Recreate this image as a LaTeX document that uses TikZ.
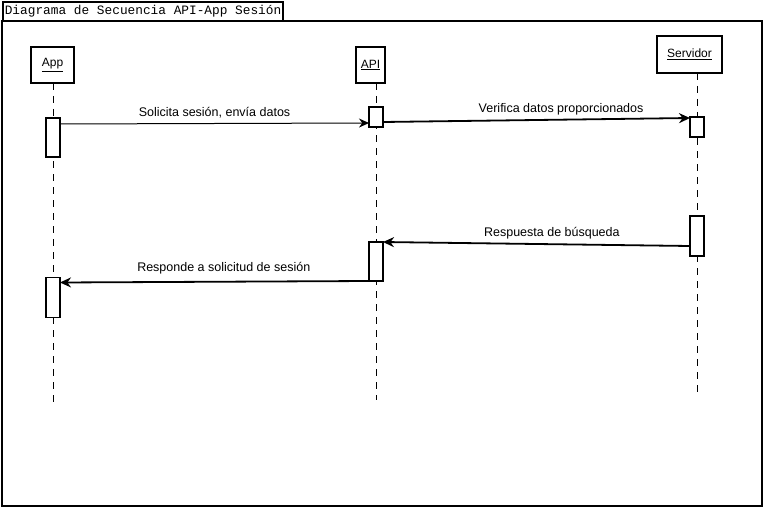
\documentclass[tikz,border=0pt]{standalone}
\usepackage{fontspec}
\setmainfont{Liberation Sans}
\newfontfamily\titlemono{Liberation Mono}
\usetikzlibrary{arrows.meta}
% fixed-width gap between the words of the monospaced title
\newcommand\titlegap{\hspace*{0.6em}}
\begin{document}
\begin{tikzpicture}[x=1pt,y=-1pt,
  frameline/.style={draw=black,line width=1.6pt},
  headbox/.style={draw=black,line width=2pt,fill=white,inner sep=0pt,outer sep=0pt,
    font=\fontsize{12}{14}\selectfont},
  actbox/.style={draw=black,line width=1.8pt,fill=white,inner sep=0pt,outer sep=0pt,
    minimum width=14pt},
  life/.style={draw=black,line width=1pt,dash pattern=on 7pt off 6pt},
  msgthin/.style={draw=black,line width=1pt,-{Stealth[length=10pt,width=9pt]}},
  msgthick/.style={draw=black,line width=1.8pt,-{Stealth[length=11pt,width=10pt]}},
  msglabel/.style={inner sep=0pt,font=\fontsize{12.5}{14}\selectfont}]

\useasboundingbox[fill=white] (0,0) rectangle (765,508);

% frame and its title tab
\draw[frameline] (2,21) rectangle (762,506);
\node[frameline,fill=white,anchor=north west,minimum width=280pt,minimum height=19pt,
  inner sep=0pt,text width=278pt,align=left,
  font=\titlemono\fontsize{12.8}{14}\selectfont] (title) at (2,1)
  {\hspace*{1pt}Diagrama\titlegap de\titlegap Secuencia\titlegap API-App\titlegap Sesión};

% lifeline heads
\node[headbox,minimum width=43pt,minimum height=36pt] (appH) at (52.5,65) {\underline{App}};
\node[headbox,minimum width=29pt,minimum height=36pt] (apiH) at (370.5,65) {\underline{API}};
\node[headbox,minimum width=65pt,minimum height=37pt] (srvH) at (689.5,54.5) {\underline{Servidor}};

% lifeline ends
\coordinate (appEnd) at (53,406);
\coordinate (apiEnd) at (376,400);
\coordinate (srvEnd) at (697,393);

% dashed lifelines
\draw[life] (appEnd |- appH.south) -- (appEnd);
\draw[life] (apiEnd |- apiH.south) -- (apiEnd);
\draw[life] (srvEnd |- srvH.south) -- (srvEnd);

% activation bars
\node[actbox,minimum height=39pt] (appA1) at (53,137.5) {};
\node[actbox,minimum height=20pt] (apiA1) at (376,117) {};
\node[actbox,minimum height=20pt] (srvA1) at (697,127) {};
\node[actbox,minimum height=40pt] (srvA2) at (697,236) {};
\node[actbox,minimum height=39pt] (apiA2) at (376,261.5) {};
\node[actbox,minimum height=40pt] (appA2) at (53,297.5) {};

% messages
\draw[msgthin] ([yshift=-6pt]appA1.north east) -- ([yshift=-16pt]apiA1.north west)
  node[msglabel,pos=0.5,above=5pt] {Solicita sesión, envía datos};
\draw[msgthick] ([yshift=-15pt]apiA1.north east) -- ([yshift=-1pt]srvA1.north west)
  node[msglabel,pos=0.58,above=4pt] {Verifica datos proporcionados};
\draw[msgthick] ([yshift=-30pt]srvA2.north west) -- (apiA2.north east)
  node[msglabel,pos=0.45,above=4pt] {Respuesta de búsqueda};
\draw[msgthick] (apiA2.south west) -- ([yshift=-5pt]appA2.north east)
  node[msglabel,pos=0.47,above=7pt] {Responde a solicitud de sesión};

\end{tikzpicture}
\end{document}
